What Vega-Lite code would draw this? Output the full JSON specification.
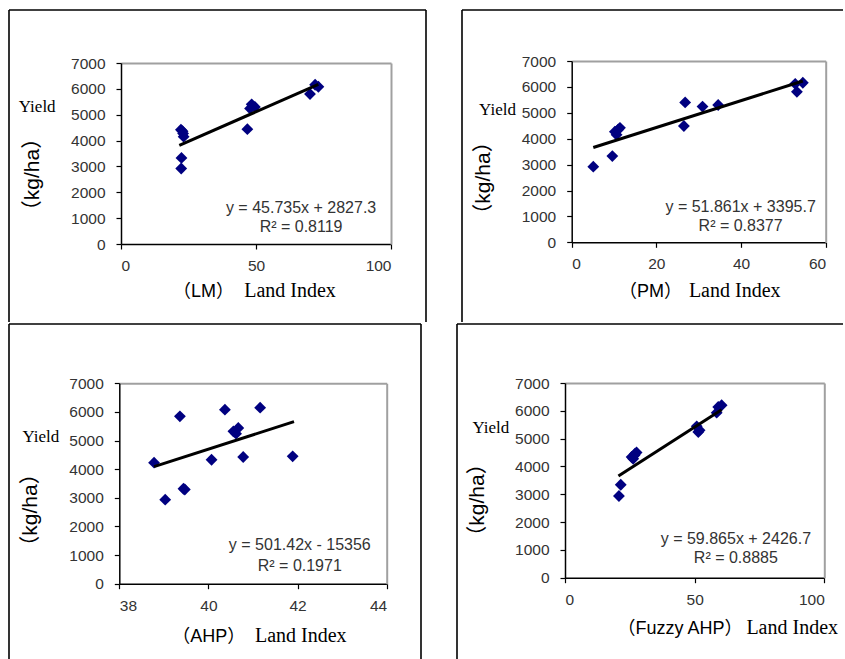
{
  "$schema": "https://vega.github.io/schema/vega-lite/v6.json",
  "padding": {"left": 8, "top": 9, "right": 0, "bottom": 0},
  "background": "white",
  "config": {
    "view": {"stroke": null},
    "axis": {"grid": false, "labelFont": "Liberation Sans", "labelFontSize": 15.5, "labelColor": "#333333", "domainColor": "#000000", "tickColor": "#000000", "tickSize": 5, "titleFontWeight": "normal", "titleColor": "#000000", "titlePadding": 0}
  },
  "datasets": {
    "points": [
      {"method": "LM", "index": 22.3, "yield": 2920}, {"method": "LM", "index": 22.4, "yield": 3330}, {"method": "LM", "index": 23.2, "yield": 4150}, {"method": "LM", "index": 23.0, "yield": 4270}, {"method": "LM", "index": 22.8, "yield": 4360}, {"method": "LM", "index": 22.2, "yield": 4420}, {"method": "LM", "index": 46.8, "yield": 4440}, {"method": "LM", "index": 47.8, "yield": 5240}, {"method": "LM", "index": 49.6, "yield": 5300}, {"method": "LM", "index": 48.4, "yield": 5400}, {"method": "LM", "index": 70.0, "yield": 5800}, {"method": "LM", "index": 73.1, "yield": 6080}, {"method": "LM", "index": 71.9, "yield": 6160},
      {"method": "PM", "index": 5.1, "yield": 2920}, {"method": "PM", "index": 9.6, "yield": 3330}, {"method": "PM", "index": 10.6, "yield": 4150}, {"method": "PM", "index": 10.2, "yield": 4270}, {"method": "PM", "index": 11.0, "yield": 4360}, {"method": "PM", "index": 11.4, "yield": 4420}, {"method": "PM", "index": 26.5, "yield": 4490}, {"method": "PM", "index": 30.9, "yield": 5240}, {"method": "PM", "index": 34.6, "yield": 5300}, {"method": "PM", "index": 26.8, "yield": 5400}, {"method": "PM", "index": 53.2, "yield": 5810}, {"method": "PM", "index": 52.8, "yield": 6120}, {"method": "PM", "index": 54.6, "yield": 6160},
      {"method": "AHP", "index": 38.78, "yield": 4227}, {"method": "AHP", "index": 39.03, "yield": 2934}, {"method": "AHP", "index": 39.36, "yield": 5847}, {"method": "AHP", "index": 39.44, "yield": 3318}, {"method": "AHP", "index": 39.47, "yield": 3290}, {"method": "AHP", "index": 40.07, "yield": 4331}, {"method": "AHP", "index": 40.37, "yield": 6078}, {"method": "AHP", "index": 40.56, "yield": 5323}, {"method": "AHP", "index": 40.67, "yield": 5439}, {"method": "AHP", "index": 40.62, "yield": 5240}, {"method": "AHP", "index": 40.78, "yield": 4426}, {"method": "AHP", "index": 41.16, "yield": 6148}, {"method": "AHP", "index": 41.89, "yield": 4450},
      {"method": "Fuzzy AHP", "index": 20.8, "yield": 2937}, {"method": "Fuzzy AHP", "index": 21.5, "yield": 3343}, {"method": "Fuzzy AHP", "index": 25.7, "yield": 4339}, {"method": "Fuzzy AHP", "index": 27.0, "yield": 4458}, {"method": "Fuzzy AHP", "index": 26.3, "yield": 4278}, {"method": "Fuzzy AHP", "index": 27.6, "yield": 4500}, {"method": "Fuzzy AHP", "index": 26.8, "yield": 4400}, {"method": "Fuzzy AHP", "index": 50.8, "yield": 5443}, {"method": "Fuzzy AHP", "index": 51.4, "yield": 5238}, {"method": "Fuzzy AHP", "index": 51.9, "yield": 5300}, {"method": "Fuzzy AHP", "index": 58.5, "yield": 5932}, {"method": "Fuzzy AHP", "index": 59.1, "yield": 6137}, {"method": "Fuzzy AHP", "index": 60.4, "yield": 6200}
    ],
    "trend": [
      {"method": "LM", "index": 21.6, "yield": 3815}, {"method": "LM", "index": 73.1, "yield": 6171},
      {"method": "PM", "index": 5.1, "yield": 3660}, {"method": "PM", "index": 54.6, "yield": 6227},
      {"method": "AHP", "index": 38.78, "yield": 4089}, {"method": "AHP", "index": 41.92, "yield": 5663},
      {"method": "Fuzzy AHP", "index": 20.6, "yield": 3660}, {"method": "Fuzzy AHP", "index": 60.4, "yield": 6042}
    ],
    "labels": [
      {"method": "LM", "label": "y = 45.735x + 2827.3\nR² = 0.8119"},
      {"method": "PM", "label": "y = 51.861x + 3395.7\nR² = 0.8377"},
      {"method": "AHP", "label": "y = 501.42x - 15356\nR² = 0.1971"},
      {"method": "Fuzzy AHP", "label": "y = 59.865x + 2426.7\nR² = 0.8885"}
    ],
    "frame": [{"edge": 0}, {"edge": 1}]
  },
  "spacing": 0,
  "bounds": "full",
  "vconcat": [
    {
      "spacing": 36,
      "bounds": "flush",
      "hconcat": [
        {
          "width": 417, "height": 312,
          "resolve": {"scale": {"x": "independent", "y": "independent"}},
          "layer": [
            {
              "resolve": {"axis": {"x": "independent", "y": "independent"}},
              "layer": [
                {
                  "data": {"name": "points"},
                  "transform": [{"filter": "datum.method === 'LM'"}],
                  "mark": {"type": "point", "shape": "diamond", "filled": true, "color": "#000080", "size": 140, "opacity": 1},
                  "encoding": {
                    "x": {"field": "index", "type": "quantitative", "scale": {"domain": [0, 100], "range": [112, 382], "nice": false, "zero": false},
                      "axis": {"orient": "bottom", "offset": -78, "values": [0, 50, 100], "format": "d", "domainWidth": 1.5, "tickWidth": 1.2, "labelPadding": 9.5, "title": "Land Index", "titleFont": "Liberation Serif", "titleFontSize": 20, "titleX": 280.5, "titleY": 52.7, "titleAlign": "center", "titleBaseline": "alphabetic", "titleAngle": 0}},
                    "y": {"field": "yield", "type": "quantitative", "scale": {"domain": [0, 7000], "range": [234, 53], "nice": false, "zero": false},
                      "axis": {"orient": "left", "offset": -112, "values": [0, 1000, 2000, 3000, 4000, 5000, 6000, 7000], "format": "d", "domainWidth": 1.5, "tickWidth": 1.2, "labelPadding": 11, "title": "（kg/ha）", "titleFont": "Liberation Sans, Noto Sans CJK SC", "titleFontSize": 21, "titleX": -83, "titleY": 164, "titleAngle": 270, "titleAlign": "center", "titleBaseline": "alphabetic"}}
                  }
                },
                {
                  "data": {"name": "trend"},
                  "transform": [{"filter": "datum.method === 'LM'"}],
                  "mark": {"type": "line", "color": "#000000", "strokeWidth": 3},
                  "encoding": {
                    "x": {"field": "index", "type": "quantitative", "scale": {"domain": [0, 100], "range": [112, 382], "nice": false, "zero": false},
                      "axis": {"orient": "top", "offset": -53, "labels": false, "ticks": false, "domainColor": "#a0a0a0", "domainWidth": 2, "title": "（LM）", "titleFont": "Liberation Sans, Noto Sans CJK SC", "titleFontSize": 18, "titleX": 193.9, "titleY": 233.7, "titleAlign": "center", "titleBaseline": "alphabetic", "titleAngle": 0}},
                    "y": {"field": "yield", "type": "quantitative", "scale": {"domain": [0, 7000], "range": [234, 53], "nice": false, "zero": false},
                      "axis": {"orient": "right", "offset": -35, "labels": false, "ticks": false, "domainColor": "#a0a0a0", "domainWidth": 2, "title": "Yield", "titleFont": "Liberation Serif", "titleFontSize": 17, "titleX": -354.3, "titleY": 101.7, "titleAlign": "center", "titleBaseline": "alphabetic", "titleAngle": 0}}
                  }
                },
                {
                  "data": {"name": "labels"},
                  "transform": [{"filter": "datum.method === 'LM'"}],
                  "mark": {"type": "text", "font": "Liberation Sans", "fontSize": 16, "color": "#333333", "align": "center", "baseline": "alphabetic", "lineBreak": "\n", "lineHeight": 19},
                  "encoding": {
                    "x": {"datum": 66.7, "type": "quantitative", "axis": null},
                    "y": {"datum": 1199, "type": "quantitative", "axis": null},
                    "text": {"field": "label", "type": "nominal"}
                  }
                }
              ]
            },
            {
              "data": {"name": "frame"},
              "layer": [
                {"mark": {"type": "rule", "color": "#000000", "strokeWidth": 1.6},
                 "encoding": {"x": {"field": "edge", "type": "quantitative", "scale": {"domain": [0, 1], "nice": false, "zero": false}, "axis": null}}},
                {"transform": [{"filter": "datum.edge === 1"}],
                 "mark": {"type": "rule", "color": "#000000", "strokeWidth": 1.6},
                 "encoding": {"y": {"field": "edge", "type": "quantitative", "scale": {"domain": [0, 1], "nice": false, "zero": false}, "axis": null}}}
              ]
            }
          ]
        },
        {
          "width": 381, "height": 312,
          "resolve": {"scale": {"x": "independent", "y": "independent"}},
          "layer": [
            {
              "resolve": {"axis": {"x": "independent", "y": "independent"}},
              "layer": [
                {
                  "data": {"name": "points"},
                  "transform": [{"filter": "datum.method === 'PM'"}],
                  "mark": {"type": "point", "shape": "diamond", "filled": true, "color": "#000080", "size": 140, "opacity": 1},
                  "encoding": {
                    "x": {"field": "index", "type": "quantitative", "scale": {"domain": [0, 60], "range": [109.7, 363.7], "nice": false, "zero": false},
                      "axis": {"orient": "bottom", "offset": -79.7, "values": [0, 20, 40, 60], "format": "d", "domainWidth": 1.5, "tickWidth": 1.2, "labelPadding": 9.5, "title": "Land Index", "titleFont": "Liberation Serif", "titleFontSize": 20, "titleX": 272.2, "titleY": 54.4, "titleAlign": "center", "titleBaseline": "alphabetic", "titleAngle": 0}},
                    "y": {"field": "yield", "type": "quantitative", "scale": {"domain": [0, 7000], "range": [232.3, 51], "nice": false, "zero": false},
                      "axis": {"orient": "left", "offset": -109.7, "values": [0, 1000, 2000, 3000, 4000, 5000, 6000, 7000], "format": "d", "domainWidth": 1.5, "tickWidth": 1.2, "labelPadding": 11, "title": "（kg/ha）", "titleFont": "Liberation Sans, Noto Sans CJK SC", "titleFontSize": 21, "titleX": -82.4, "titleY": 167.5, "titleAngle": 270, "titleAlign": "center", "titleBaseline": "alphabetic"}}
                  }
                },
                {
                  "data": {"name": "trend"},
                  "transform": [{"filter": "datum.method === 'PM'"}],
                  "mark": {"type": "line", "color": "#000000", "strokeWidth": 3},
                  "encoding": {
                    "x": {"field": "index", "type": "quantitative", "scale": {"domain": [0, 60], "range": [109.7, 363.7], "nice": false, "zero": false},
                      "axis": {"orient": "top", "offset": -51, "labels": false, "ticks": false, "domainColor": "#a0a0a0", "domainWidth": 2, "title": "（PM）", "titleFont": "Liberation Sans, Noto Sans CJK SC", "titleFontSize": 18, "titleX": 188, "titleY": 235.7, "titleAlign": "center", "titleBaseline": "alphabetic", "titleAngle": 0}},
                    "y": {"field": "yield", "type": "quantitative", "scale": {"domain": [0, 7000], "range": [232.3, 51], "nice": false, "zero": false},
                      "axis": {"orient": "right", "offset": -17.3, "labels": false, "ticks": false, "domainColor": "#a0a0a0", "domainWidth": 2, "title": "Yield", "titleFont": "Liberation Serif", "titleFontSize": 17, "titleX": -328.7, "titleY": 104, "titleAlign": "center", "titleBaseline": "alphabetic", "titleAngle": 0}}
                  }
                },
                {
                  "data": {"name": "labels"},
                  "transform": [{"filter": "datum.method === 'PM'"}],
                  "mark": {"type": "text", "font": "Liberation Sans", "fontSize": 16, "color": "#333333", "align": "center", "baseline": "alphabetic", "lineBreak": "\n", "lineHeight": 19},
                  "encoding": {
                    "x": {"datum": 39.9, "type": "quantitative", "axis": null},
                    "y": {"datum": 1181, "type": "quantitative", "axis": null},
                    "text": {"field": "label", "type": "nominal"}
                  }
                }
              ]
            },
            {
              "data": {"name": "frame"},
              "layer": [
                {"transform": [{"filter": "datum.edge === 0"}],
                 "mark": {"type": "rule", "color": "#000000", "strokeWidth": 1.6},
                 "encoding": {"x": {"field": "edge", "type": "quantitative", "scale": {"domain": [0, 1], "nice": false, "zero": false}, "axis": null}}},
                {"transform": [{"filter": "datum.edge === 1"}],
                 "mark": {"type": "rule", "color": "#000000", "strokeWidth": 1.6},
                 "encoding": {"y": {"field": "edge", "type": "quantitative", "scale": {"domain": [0, 1], "nice": false, "zero": false}, "axis": null}}}
              ]
            }
          ]
        }
      ]
    },
    {
      "spacing": 36,
      "bounds": "flush",
      "hconcat": [
        {
          "width": 412, "height": 335,
          "resolve": {"scale": {"x": "independent", "y": "independent"}},
          "layer": [
            {
              "resolve": {"axis": {"x": "independent", "y": "independent"}},
              "layer": [
                {
                  "data": {"name": "points"},
                  "transform": [{"filter": "datum.method === 'AHP'"}],
                  "mark": {"type": "point", "shape": "diamond", "filled": true, "color": "#000080", "size": 140, "opacity": 1},
                  "encoding": {
                    "x": {"field": "index", "type": "quantitative", "scale": {"domain": [38, 44], "range": [110.3, 377.7], "nice": false, "zero": false},
                      "axis": {"orient": "bottom", "offset": -75.3, "values": [38, 40, 42, 44], "format": "d", "domainWidth": 1.5, "tickWidth": 1.2, "labelPadding": 9.5, "title": "Land Index", "titleFont": "Liberation Serif", "titleFontSize": 20, "titleX": 291.3, "titleY": 57.6, "titleAlign": "center", "titleBaseline": "alphabetic", "titleAngle": 0}},
                    "y": {"field": "yield", "type": "quantitative", "scale": {"domain": [0, 7000], "range": [259.7, 59.3], "nice": false, "zero": false},
                      "axis": {"orient": "left", "offset": -110.3, "values": [0, 1000, 2000, 3000, 4000, 5000, 6000, 7000], "format": "d", "domainWidth": 1.5, "tickWidth": 1.2, "labelPadding": 11, "title": "（kg/ha）", "titleFont": "Liberation Sans, Noto Sans CJK SC", "titleFontSize": 21, "titleX": -83.3, "titleY": 185.5, "titleAngle": 270, "titleAlign": "center", "titleBaseline": "alphabetic"}}
                  }
                },
                {
                  "data": {"name": "trend"},
                  "transform": [{"filter": "datum.method === 'AHP'"}],
                  "mark": {"type": "line", "color": "#000000", "strokeWidth": 3},
                  "encoding": {
                    "x": {"field": "index", "type": "quantitative", "scale": {"domain": [38, 44], "range": [110.3, 377.7], "nice": false, "zero": false},
                      "axis": {"orient": "top", "offset": -59.3, "labels": false, "ticks": false, "domainColor": "#a0a0a0", "domainWidth": 2, "title": "（AHP）", "titleFont": "Liberation Sans, Noto Sans CJK SC", "titleFontSize": 18, "titleX": 199.3, "titleY": 258, "titleAlign": "center", "titleBaseline": "alphabetic", "titleAngle": 0}},
                    "y": {"field": "yield", "type": "quantitative", "scale": {"domain": [0, 7000], "range": [259.7, 59.3], "nice": false, "zero": false},
                      "axis": {"orient": "right", "offset": -34.3, "labels": false, "ticks": false, "domainColor": "#a0a0a0", "domainWidth": 2, "title": "Yield", "titleFont": "Liberation Serif", "titleFontSize": 17, "titleX": -346.4, "titleY": 117, "titleAlign": "center", "titleBaseline": "alphabetic", "titleAngle": 0}}
                  }
                },
                {
                  "data": {"name": "labels"},
                  "transform": [{"filter": "datum.method === 'AHP'"}],
                  "mark": {"type": "text", "font": "Liberation Sans", "fontSize": 16, "color": "#333333", "align": "center", "baseline": "alphabetic", "lineBreak": "\n", "lineHeight": 21},
                  "encoding": {
                    "x": {"datum": 42.05, "type": "quantitative", "axis": null},
                    "y": {"datum": 1167, "type": "quantitative", "axis": null},
                    "text": {"field": "label", "type": "nominal"}
                  }
                }
              ]
            },
            {
              "data": {"name": "frame"},
              "layer": [
                {"mark": {"type": "rule", "color": "#000000", "strokeWidth": 1.6},
                 "encoding": {"x": {"field": "edge", "type": "quantitative", "scale": {"domain": [0, 1], "nice": false, "zero": false}, "axis": null}}},
                {"transform": [{"filter": "datum.edge === 1"}],
                 "mark": {"type": "rule", "color": "#000000", "strokeWidth": 1.6},
                 "encoding": {"y": {"field": "edge", "type": "quantitative", "scale": {"domain": [0, 1], "nice": false, "zero": false}, "axis": null}}}
              ]
            }
          ]
        },
        {
          "width": 386, "height": 335,
          "resolve": {"scale": {"x": "independent", "y": "independent"}},
          "layer": [
            {
              "resolve": {"axis": {"x": "independent", "y": "independent"}},
              "layer": [
                {
                  "data": {"name": "points"},
                  "transform": [{"filter": "datum.method === 'Fuzzy AHP'"}],
                  "mark": {"type": "point", "shape": "diamond", "filled": true, "color": "#000080", "size": 140, "opacity": 1},
                  "encoding": {
                    "x": {"field": "index", "type": "quantitative", "scale": {"domain": [0, 100], "range": [108, 367.3], "nice": false, "zero": false},
                      "axis": {"orient": "bottom", "offset": -81.3, "values": [0, 50, 100], "format": "d", "domainWidth": 1.5, "tickWidth": 1.2, "labelPadding": 9.5, "title": "Land Index", "titleFont": "Liberation Serif", "titleFontSize": 20, "titleX": 334.7, "titleY": 56, "titleAlign": "center", "titleBaseline": "alphabetic", "titleAngle": 0}},
                    "y": {"field": "yield", "type": "quantitative", "scale": {"domain": [0, 7000], "range": [253.7, 59], "nice": false, "zero": false},
                      "axis": {"orient": "left", "offset": -108, "values": [0, 1000, 2000, 3000, 4000, 5000, 6000, 7000], "format": "d", "domainWidth": 1.5, "tickWidth": 1.2, "labelPadding": 11, "title": "（kg/ha）", "titleFont": "Liberation Sans, Noto Sans CJK SC", "titleFontSize": 21, "titleX": -81.7, "titleY": 175.5, "titleAngle": 270, "titleAlign": "center", "titleBaseline": "alphabetic"}}
                  }
                },
                {
                  "data": {"name": "trend"},
                  "transform": [{"filter": "datum.method === 'Fuzzy AHP'"}],
                  "mark": {"type": "line", "color": "#000000", "strokeWidth": 3},
                  "encoding": {
                    "x": {"field": "index", "type": "quantitative", "scale": {"domain": [0, 100], "range": [108, 367.3], "nice": false, "zero": false},
                      "axis": {"orient": "top", "offset": -59, "labels": false, "ticks": false, "domainColor": "#a0a0a0", "domainWidth": 2, "title": "（Fuzzy AHP）", "titleFont": "Liberation Sans, Noto Sans CJK SC", "titleFontSize": 18, "titleX": 222.5, "titleY": 250.7, "titleAlign": "center", "titleBaseline": "alphabetic", "titleAngle": 0}},
                    "y": {"field": "yield", "type": "quantitative", "scale": {"domain": [0, 7000], "range": [253.7, 59], "nice": false, "zero": false},
                      "axis": {"orient": "right", "offset": -18.7, "labels": false, "ticks": false, "domainColor": "#a0a0a0", "domainWidth": 2, "title": "Yield", "titleFont": "Liberation Serif", "titleFontSize": 17, "titleX": -334, "titleY": 108, "titleAlign": "center", "titleBaseline": "alphabetic", "titleAngle": 0}}
                  }
                },
                {
                  "data": {"name": "labels"},
                  "transform": [{"filter": "datum.method === 'Fuzzy AHP'"}],
                  "mark": {"type": "text", "font": "Liberation Sans", "fontSize": 16, "color": "#333333", "align": "center", "baseline": "alphabetic", "lineBreak": "\n", "lineHeight": 19},
                  "encoding": {
                    "x": {"datum": 65.9, "type": "quantitative", "axis": null},
                    "y": {"datum": 1222, "type": "quantitative", "axis": null},
                    "text": {"field": "label", "type": "nominal"}
                  }
                }
              ]
            },
            {
              "data": {"name": "frame"},
              "layer": [
                {"transform": [{"filter": "datum.edge === 0"}],
                 "mark": {"type": "rule", "color": "#000000", "strokeWidth": 1.6},
                 "encoding": {"x": {"field": "edge", "type": "quantitative", "scale": {"domain": [0, 1], "nice": false, "zero": false}, "axis": null}}},
                {"transform": [{"filter": "datum.edge === 1"}],
                 "mark": {"type": "rule", "color": "#000000", "strokeWidth": 1.6},
                 "encoding": {"y": {"field": "edge", "type": "quantitative", "scale": {"domain": [0, 1], "nice": false, "zero": false}, "axis": null}}}
              ]
            }
          ]
        }
      ]
    }
  ]
}
